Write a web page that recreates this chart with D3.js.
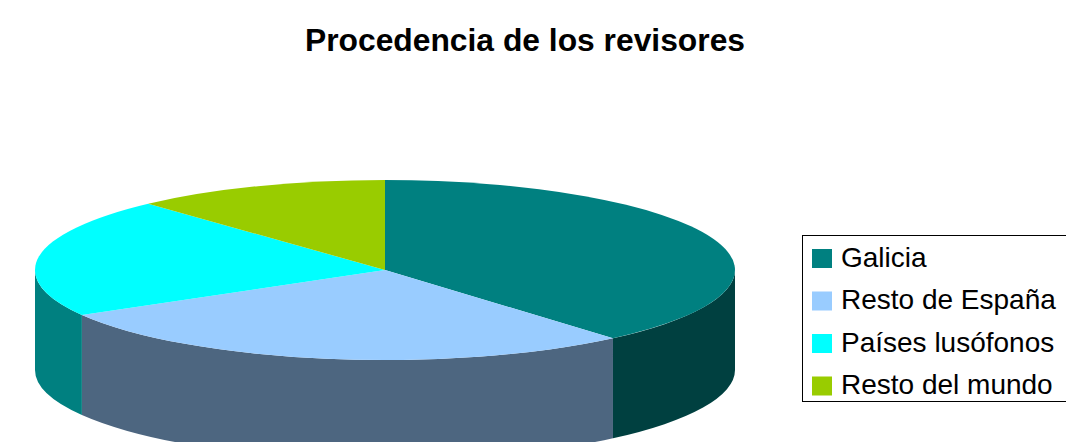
<!DOCTYPE html>
<html>
<head>
<meta charset="utf-8">
<script src="https://cdn.jsdelivr.net/npm/d3@7"></script>
<style>
  body { margin: 0; background: #fff; }
  svg { display: block; font-family: "Liberation Sans", Arial, sans-serif; }
</style>
</head>
<body>
<svg id="chart" width="1066" height="442"></svg>
<script>
// data
let categories = ["Galicia", "Resto de España", "Países lusófonos", "Resto del mundo"]
let values = [36, 26, 20, 11]
let topColors = ["#008080", "#99ccff", "#00ffff", "#99cc00"]
let sideColors = ["#004040", "#4d6680", "#008080", "#4d6600"]

let svg = d3.select("#chart")

// title
svg.append("text")
   .attr("x", 525)
   .attr("y", 51)
   .attr("text-anchor", "middle")
   .style("font-size", "31.8px")
   .style("font-weight", "bold")
   .text("Procedencia de los revisores")

// 3d pie geometry
let cx = 385, cy = 270, rx = 350, ry = 90, depth = 100

let pie = d3.pie().sort(null).startAngle(0).endAngle(2 * Math.PI)
let slices = pie(values)

function pt(a, dy) {
    return [cx + rx * Math.sin(a), cy - ry * Math.cos(a) + (dy || 0)]
}

function topPath(d) {
    let p0 = pt(d.startAngle), p1 = pt(d.endAngle)
    let large = (d.endAngle - d.startAngle) > Math.PI ? 1 : 0
    return `M${cx},${cy}L${p0}A${rx},${ry} 0 ${large} 1 ${p1}Z`
}

function sidePath(d) {
    // only the front half of the cylinder can be seen
    let a0 = Math.max(d.startAngle, Math.PI / 2)
    let a1 = Math.min(d.endAngle, 3 * Math.PI / 2)
    if (a1 <= a0) return null
    let t0 = pt(a0), t1 = pt(a1), b0 = pt(a0, depth), b1 = pt(a1, depth)
    return `M${t0}A${rx},${ry} 0 0 1 ${t1}L${b1}A${rx},${ry} 0 0 0 ${b0}Z`
}

let g = svg.append("g")

g.selectAll("path.side")
 .data(slices.filter(d => sidePath(d) != null))
 .enter()
 .append("path")
 .attr("class", "side")
 .attr("d", sidePath)
 .attr("fill", d => sideColors[d.index])

g.selectAll("path.top")
 .data(slices)
 .enter()
 .append("path")
 .attr("class", "top")
 .attr("d", topPath)
 .attr("fill", d => topColors[d.index])

// legend
let legend = svg.append("g")
legend.append("rect")
      .attr("x", 802.5)
      .attr("y", 235.5)
      .attr("width", 300)
      .attr("height", 166)
      .attr("fill", "none")
      .attr("stroke", "#000")

let rowY = d3.scalePoint().domain(categories).range([258.5, 386])

let item = legend.selectAll("g.item")
                 .data(categories)
                 .enter()
                 .append("g")
                 .attr("class", "item")
                 .attr("transform", d => `translate(0,${rowY(d)})`)

item.append("rect")
    .attr("x", 812)
    .attr("y", -9.5)
    .attr("width", 20)
    .attr("height", 19)
    .attr("fill", (d, i) => topColors[i])

item.append("text")
    .attr("x", 841)
    .attr("y", 8)
    .style("font-size", "28px")
    .text(d => d)
</script>
</body>
</html>
